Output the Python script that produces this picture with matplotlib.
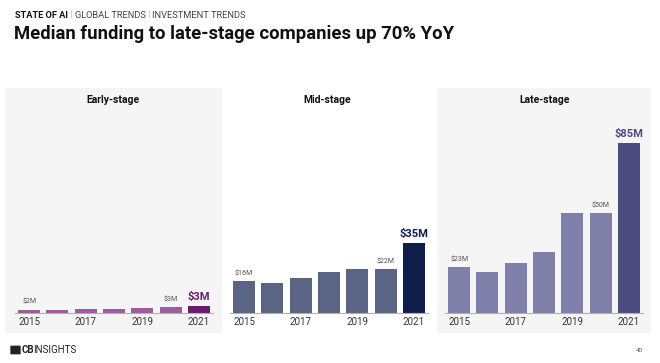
import matplotlib
matplotlib.use("Agg")
import matplotlib.pyplot as plt
from matplotlib.patches import Rectangle, FancyBboxPatch

plt.rcParams['font.family'] = ['Roboto', 'DejaVu Sans']

years = ["2015", "2016", "2017", "2018", "2019", "2020", "2021"]
tick_years = ["2015", "2017", "2019", "2021"]
early = [1.6, 1.6, 2.2, 2.2, 2.5, 3.0, 3.5]
mid = [16, 15, 17.5, 20.5, 22, 22, 35]
late = [23, 20.5, 25, 30.5, 50, 50, 85]
early_labels = {0: "$2M", 5: "$3M", 6: "$3M"}
mid_labels = {0: "$16M", 5: "$22M", 6: "$35M"}
late_labels = {0: "$23M", 5: "$50M", 6: "$85M"}
panel_titles = ["Early-stage", "Mid-stage", "Late-stage"]

W, H = 660, 363
fig = plt.figure(figsize=(W / 100, H / 100), dpi=100)
fig.patch.set_facecolor("white")

def fx(px):
    return px / W

def fy(py):
    return 1 - py / H

# panel backgrounds
for x0, x1 in [(5, 222), (437, 651)]:
    fig.patches.append(Rectangle((fx(x0), fy(333)), fx(x1 - x0), (333 - 88) / H,
                                 transform=fig.transFigure, facecolor="#f5f5f5",
                                 edgecolor="none", zorder=-5))

panels = [
    (early, early_labels, "#9d5c9c", "#6b1a6f", (15, 213), 113),
    (mid, mid_labels, "#5a6484", "#0f1f4c", (230, 428), 327),
    (late, late_labels, "#7e80a9", "#4b4d82", (445, 643), 545),
]

base_py = 313
top_py = 123
for i, (vals, labels, c_norm, c_hi, (x0, x1), tx) in enumerate(panels):
    ax = fig.add_axes([fx(x0), fy(base_py), fx(x1 - x0), (base_py - top_py) / H])
    ax.set_facecolor("none")
    ax.set_zorder(2)
    colors = [c_norm] * 6 + [c_hi]
    xs = list(range(len(years)))
    ax.bar(xs, vals, width=0.78, color=colors, zorder=2)
    ax.set_xlim(-0.5, 6.5)
    ax.set_ylim(0, 95)
    for s in ["top", "right", "left"]:
        ax.spines[s].set_visible(False)
    ax.spines["bottom"].set_color("#b0b0b0")
    ax.spines["bottom"].set_linewidth(0.8)
    ax.set_yticks([])
    ax.set_xticks([0, 2, 4, 6])
    ax.set_xticklabels(tick_years, fontsize=7, color="#333333")
    ax.tick_params(axis="x", length=0, pad=3)
    for k, lab in labels.items():
        if k == 6:
            ax.annotate(lab, (k, vals[k]), xytext=(0, 3), textcoords="offset points",
                        ha="center", va="bottom", fontsize=8, fontweight="bold",
                        color=c_hi, annotation_clip=False)
        else:
            ax.annotate(lab, (k, vals[k]), xytext=(0, 3), textcoords="offset points",
                        ha="center", va="bottom", fontsize=5, color="#555555",
                        annotation_clip=False)
    fig.text(fx(tx), fy(100), panel_titles[i], ha="center", va="center",
             fontsize=7.5, fontweight="bold", color="#111111")

# header
fig.canvas.draw()
renderer = fig.canvas.get_renderer()
parts = [("STATE OF AI", "bold", "#111111"), (" | ", "normal", "#bbbbbb"),
         ("GLOBAL TRENDS", "normal", "#444444"), (" | ", "normal", "#bbbbbb"),
         ("INVESTMENT TRENDS", "normal", "#444444")]
xpos = fx(15)
for txt, wt, col in parts:
    t = fig.text(xpos, fy(15), txt, ha="left", va="center", fontsize=6.7,
                 fontweight=wt, color=col)
    bb = t.get_window_extent(renderer)
    xpos += bb.width / W

fig.text(fx(14), fy(34), "Median funding to late-stage companies up 70% YoY",
         ha="left", va="center", fontsize=13.3, fontweight="bold", color="#111111")

# footer
fig.patches.append(FancyBboxPatch((fx(11), fy(354)), fx(9), 8 / H,
                                  boxstyle="round,pad=0.001", transform=fig.transFigure,
                                  facecolor="#222222", edgecolor="none"))
t1 = fig.text(fx(22), fy(350), "CB", ha="left", va="center", fontsize=7,
              fontweight="bold", color="#222222")
bb = t1.get_window_extent(renderer)
fig.text(fx(22) + (bb.width - 1.5) / W, fy(350), "INSIGHTS", ha="left", va="center",
         fontsize=7, color="#222222")
fig.text(fx(643), fy(350), "40", ha="right", va="center", fontsize=4.5, color="#555555")

fig.savefig("out.png", dpi=100, facecolor="white")
